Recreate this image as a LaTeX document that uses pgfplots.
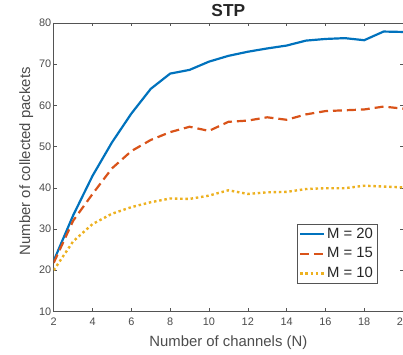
\documentclass[border=0pt]{standalone}
\usepackage{fontspec}
\setmainfont{Liberation Sans}
\usepackage{pgfplots}
\pgfplotsset{compat=1.18}
\definecolor{mblue}{rgb}{0,0.447,0.741}
\definecolor{morange}{rgb}{0.85,0.325,0.098}
\definecolor{myellow}{rgb}{0.929,0.694,0.125}
\definecolor{axgray}{rgb}{0.33,0.33,0.33}
\definecolor{txtgray}{rgb}{0.3,0.3,0.3}
\begin{document}
\begin{tikzpicture}[trim axis right]
\begin{axis}[
  width=351bp, height=290bp, scale only axis,
  xmin=2, xmax=20, ymin=10, ymax=80,
  xtick={2,4,...,20}, ytick={10,20,...,80},
  tick align=inside, major tick length=3.5bp,
  axis line style={draw=axgray, line width=0.5bp},
  every tick/.style={draw=axgray, line width=0.5bp},
  tick label style={font=\fontsize{11}{12}\selectfont, text=txtgray},
  xticklabel style={yshift=-3bp},
  yticklabel style={xshift=1bp},
  /pgf/number format/assume math mode=true,
  label style={font=\fontsize{15}{16}\selectfont, text=txtgray},
  xlabel={Number of channels (N)},
  ylabel={Number of collected packets},
  xlabel style={yshift=-3bp},
  ylabel style={yshift=-1bp, xshift=6bp},
  title={STP},
  title style={font=\fontsize{17.5}{18}\selectfont\bfseries, text=black!85, yshift=-3bp},
  legend style={at={(0.926,0.097)}, anchor=south east, draw=axgray,
    font=\fontsize{15}{16}\selectfont, text=black!85, inner sep=2bp, row sep=4bp},
  legend cell align=left,
  legend image code/.code={\draw[#1] (0bp,0bp) -- (24bp,0bp);},
]
\addplot[mblue, line width=2.2bp] coordinates {
 (2,22.3) (3,33.3) (4,42.9) (5,51.0) (6,58.0) (7,64.0) (8,67.7) (9,68.6) (10,70.6)
 (11,72.0) (12,73.0) (13,73.8) (14,74.5) (15,75.7) (16,76.1) (17,76.3) (18,75.8)
 (19,77.9) (20,77.8)};
\addlegendentry{M = 20}
\addplot[morange, line width=2.2bp, dash pattern=on 9bp off 5bp] coordinates {
 (2,21.8) (3,32.0) (4,38.5) (5,44.7) (6,48.9) (7,51.6) (8,53.5) (9,54.8) (10,53.8)
 (11,56.0) (12,56.3) (13,57.1) (14,56.5) (15,57.8) (16,58.6) (17,58.8) (18,59.0)
 (19,59.7) (20,59.2)};
\addlegendentry{M = 15}
\addplot[myellow, line width=2.4bp, dash pattern=on 2.5bp off 2.8bp] coordinates {
 (2,20.0) (3,27.0) (4,31.2) (5,33.7) (6,35.3) (7,36.5) (8,37.4) (9,37.3) (10,38.1)
 (11,39.4) (12,38.5) (13,38.9) (14,39.0) (15,39.7) (16,39.9) (17,39.9) (18,40.5)
 (19,40.3) (20,40.1)};
\addlegendentry{M = 10}
\end{axis}
\path (current axis.south west) ++(-54bp,-43bp) coordinate (bl);
\path (current axis.north west) ++(-54bp,23bp) coordinate (tl);
\path (bl) -- (tl);
\end{tikzpicture}
\end{document}
